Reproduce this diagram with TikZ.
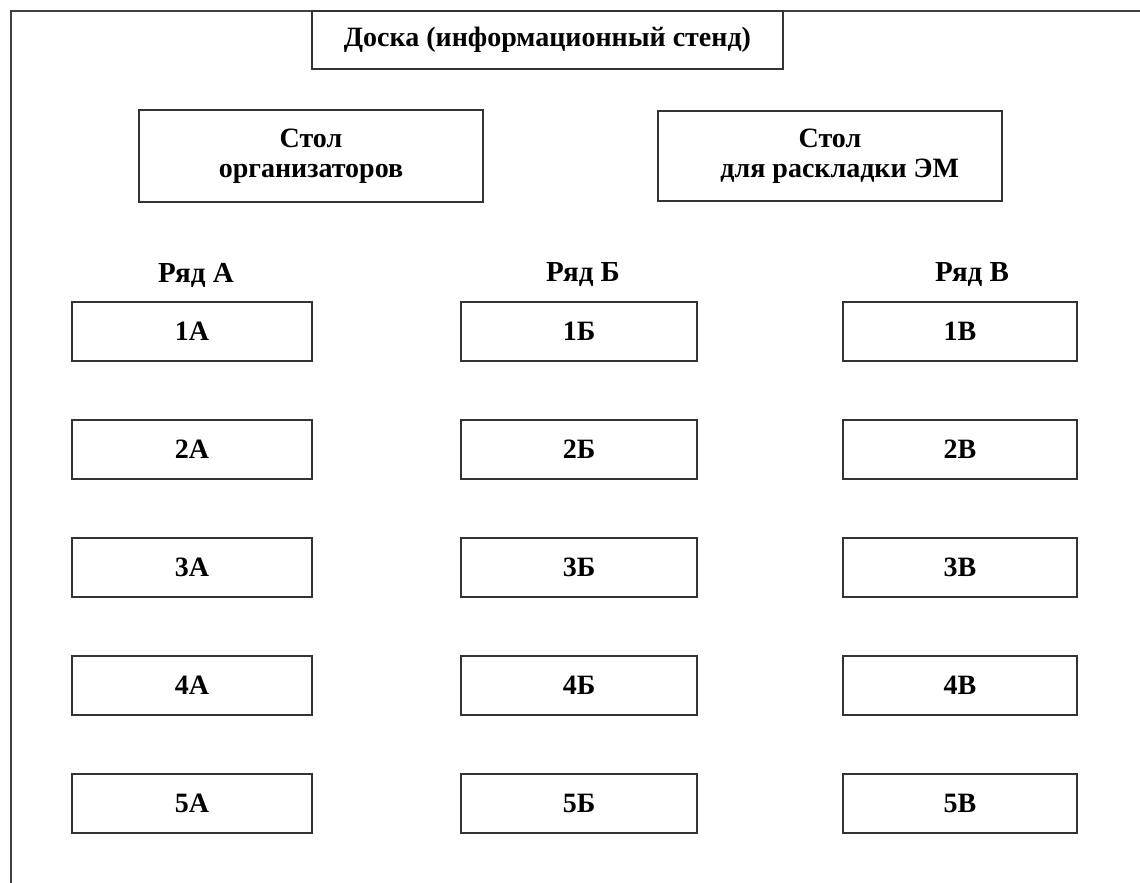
\documentclass[tikz,border=0pt]{standalone}
\usepackage{fontspec}
\setmainfont{Liberation Serif}
\tikzset{
    desk/.style={draw=black!80, line width=1.8pt, inner sep=0pt, font=\fontsize{28}{30}\selectfont\bfseries, align=center},
    rowlabel/.style={font=\fontsize{29}{31}\selectfont\bfseries}
}
\begin{document}
\begin{tikzpicture}[x=1pt, y=-1pt]
    \useasboundingbox (0,0) rectangle (1140,883);
    \clip (0,0) rectangle (1140,883);
    % room walls
    \draw[black!75, line width=1.8pt] (11,900) to (11,11) to (1160,11);
    % front of the room
    \node[desk, minimum width=471pt, minimum height=58pt] (board) at (547.5,40) {Доска (информационный стенд)};
    \node[desk, minimum width=344pt, minimum height=92pt] (orgtable) at (311,156) {Стол\\организаторов};
    \node[desk, minimum width=344pt, minimum height=90pt] (emtable) at (830,156) {Стол\\\hspace*{0.7em}для раскладки ЭМ};
    % row titles
    \node[rowlabel] (rowA) at (196,275) {Ряд А};
    \node[rowlabel] (rowB) at (583,275) {Ряд Б};
    \node[rowlabel] (rowV) at (972,275) {Ряд В};
    % row A
    \node[desk, minimum width=240pt, minimum height=59pt] (A1) at (192,331.5) {1А};
    \node[desk, minimum width=240pt, minimum height=59pt] (A2) at (192,449.5) {2А};
    \node[desk, minimum width=240pt, minimum height=59pt] (A3) at (192,567.5) {3А};
    \node[desk, minimum width=240pt, minimum height=59pt] (A4) at (192,685.5) {4А};
    \node[desk, minimum width=240pt, minimum height=59pt] (A5) at (192,803.5) {5А};
    % row B
    \node[desk, minimum width=236pt, minimum height=59pt] (B1) at (579,331.5) {1Б};
    \node[desk, minimum width=236pt, minimum height=59pt] (B2) at (579,449.5) {2Б};
    \node[desk, minimum width=236pt, minimum height=59pt] (B3) at (579,567.5) {3Б};
    \node[desk, minimum width=236pt, minimum height=59pt] (B4) at (579,685.5) {4Б};
    \node[desk, minimum width=236pt, minimum height=59pt] (B5) at (579,803.5) {5Б};
    % row V
    \node[desk, minimum width=234pt, minimum height=59pt] (V1) at (960,331.5) {1В};
    \node[desk, minimum width=234pt, minimum height=59pt] (V2) at (960,449.5) {2В};
    \node[desk, minimum width=234pt, minimum height=59pt] (V3) at (960,567.5) {3В};
    \node[desk, minimum width=234pt, minimum height=59pt] (V4) at (960,685.5) {4В};
    \node[desk, minimum width=234pt, minimum height=59pt] (V5) at (960,803.5) {5В};
\end{tikzpicture}
\end{document}
